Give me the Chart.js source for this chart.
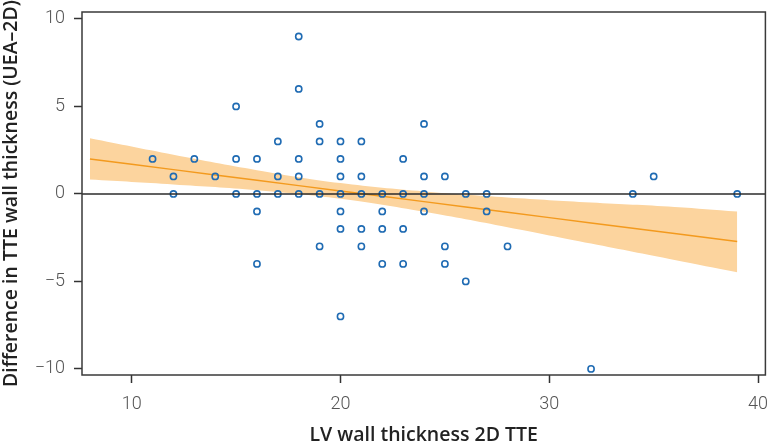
<!DOCTYPE html>
<html>
<head>
<meta charset="utf-8">
<script src="https://cdn.jsdelivr.net/npm/chart.js@4/dist/chart.umd.min.js"></script>
<style>
  html, body { margin: 0; padding: 0; background: #ffffff; }
  #wrap { width: 771px; height: 448px; }
</style>
</head>
<body>
<div id="wrap"><canvas id="c" width="771" height="448"></canvas></div>
<script>
// ---- data ----
const pointX = [11,12,12,13,14,15,15,15,16,16,16,16,17,17,17,18,18,18,18,18,19,19,19,19,20,20,20,20,20,20,20,21,21,21,21,21,22,22,22,22,23,23,23,23,24,24,24,24,25,25,25,26,26,27,27,28,32,34,35,39];
const pointY = [2,1,0,2,1,5,2,0,2,0,-1,-4,3,1,0,9,6,2,1,0,4,3,0,-3,3,2,1,0,-1,-2,-7,3,1,0,-2,-3,0,-1,-2,-4,2,0,-2,-4,4,1,0,-1,1,-3,-4,0,-5,0,-1,-3,-10,0,1,0];

const fitX      = [8, 12, 16, 20, 24, 28, 32, 36, 39];
const fitY      = [2.00, 1.39, 0.78, 0.17, -0.44, -1.05, -1.66, -2.26, -2.72];
const bandUpper = [3.18, 2.24, 1.36, 0.62, 0.14, -0.20, -0.49, -0.74, -1.00];
const bandLower = [0.82, 0.54, 0.21, -0.28, -1.02, -1.90, -2.84, -3.78, -4.48];

const xTicks = [10, 20, 30, 40];
const yTicks = [-10, -5, 0, 5, 10];
const zeroLineValue = 0;

const xTitle = 'LV wall thickness 2D TTE';
const yTitle = 'Difference in TTE wall thickness (UEA\u20132D)';

// ---- build datasets ----
const toXY = (xs, ys) => xs.map((x, i) => ({ x: x, y: ys[i] }));
const fmt = v => (v < 0 ? '\u2212' + Math.abs(v) : String(v));

const framePlugin = {
  id: 'frame',
  afterDatasetsDraw(chart) {
    const ctx = chart.ctx, a = chart.chartArea;
    const y0 = chart.scales.y.getPixelForValue(zeroLineValue);
    ctx.save();
    ctx.strokeStyle = '#2b2b2b';
    ctx.lineWidth = 1.5;
    ctx.beginPath();
    ctx.moveTo(a.left, y0);
    ctx.lineTo(a.right, y0);
    ctx.stroke();
    ctx.strokeStyle = '#3a3a3a';
    ctx.lineWidth = 1.5;
    ctx.strokeRect(a.left, a.top, a.right - a.left, a.bottom - a.top);
    ctx.restore();
  }
};

const tickFont = { family: 'Roboto, "DejaVu Sans"', size: 18, weight: '300' };
const titleFont = { family: '"Open Sans", Roboto, "DejaVu Sans"', size: 19.5, weight: '600' };

new Chart(document.getElementById('c'), {
  type: 'scatter',
  data: {
    datasets: [
      {
        label: 'points',
        data: toXY(pointX, pointY),
        pointStyle: 'circle',
        pointRadius: 3.1,
        pointBorderWidth: 1.6,
        borderColor: '#1f6bb3',
        backgroundColor: 'rgba(0,0,0,0)',
        showLine: false
      },
      {
        label: 'fit',
        data: toXY(fitX, fitY),
        showLine: true,
        borderColor: '#f39a1e',
        borderWidth: 1.4,
        pointRadius: 0,
        tension: 0.4,
        fill: false
      },
      {
        label: 'upper',
        data: toXY(fitX, bandUpper),
        showLine: true,
        borderWidth: 0,
        borderColor: 'rgba(0,0,0,0)',
        pointRadius: 0,
        tension: 0.4,
        backgroundColor: '#fcd49e',
        fill: '+1'
      },
      {
        label: 'lower',
        data: toXY(fitX, bandLower),
        showLine: true,
        borderWidth: 0,
        borderColor: 'rgba(0,0,0,0)',
        pointRadius: 0,
        tension: 0.4,
        fill: false
      }
    ]
  },
  options: {
    responsive: false,
    animation: false,
    layout: { padding: { top: 12, right: 3, left: 0, bottom: 0 } },
    plugins: { legend: { display: false }, tooltip: { enabled: false } },
    scales: {
      x: {
        type: 'linear',
        min: 7.62,
        max: 40.35,
        afterBuildTicks: s => { s.ticks = xTicks.map(v => ({ value: v })); },
        afterFit: s => { s.height = 73; s.paddingLeft = 0; s.paddingRight = 0; },
        grid: { drawOnChartArea: false, drawTicks: true, tickLength: 8, tickColor: '#333', tickWidth: 1.5 },
        border: { display: false },
        ticks: { font: tickFont, color: '#555', padding: 11, callback: fmt },
        title: { display: true, text: xTitle, font: titleFont, color: '#222', padding: { top: 0, bottom: 1 } }
      },
      y: {
        type: 'linear',
        min: -10.35,
        max: 10.4,
        afterBuildTicks: s => { s.ticks = yTicks.map(v => ({ value: v })); },
        afterFit: s => { s.width = 82; s.paddingTop = 0; s.paddingBottom = 0; },
        grid: { drawOnChartArea: false, drawTicks: true, tickLength: 8, tickColor: '#333', tickWidth: 1.5 },
        border: { display: false },
        ticks: { font: tickFont, color: '#555', padding: 9, callback: fmt },
        title: { display: true, text: yTitle, font: titleFont, color: '#222', padding: { top: 0, bottom: 0 } }
      }
    }
  },
  plugins: [framePlugin]
});
</script>
</body>
</html>
